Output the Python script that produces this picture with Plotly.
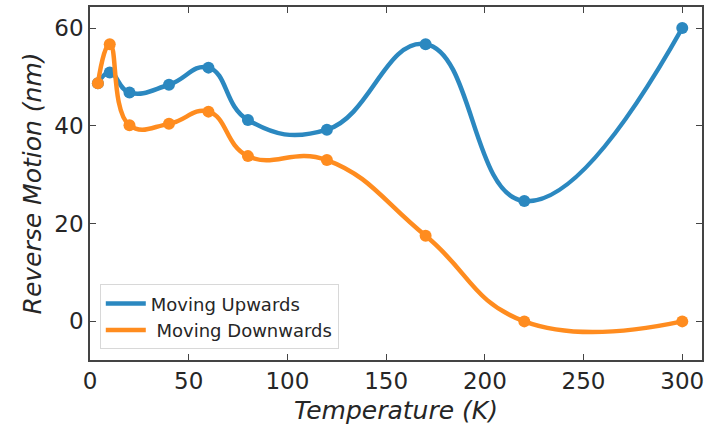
import plotly.graph_objects as go

temperature = [4, 10, 20, 40, 60, 80, 120, 170, 220, 300]
moving_up = [48.7, 50.9, 46.8, 48.4, 51.9, 41.2, 39.2, 56.7, 24.6, 60.0]
moving_down = [48.7, 56.7, 40.1, 40.4, 42.9, 33.8, 33.0, 17.5, 0.0, 0.0]
x_ticks = [0, 50, 100, 150, 200, 250, 300]
y_ticks = [0, 20, 40, 60]

BLUE = "#2b88c0"
ORANGE = "#ff8c1f"

fig = go.Figure()
for name, ys, col in [("Moving Upwards", moving_up, BLUE), (" Moving Downwards", moving_down, ORANGE)]:
    fig.add_trace(go.Scatter(x=temperature, y=ys, mode="lines", name=name,
                             line=dict(color=col, width=4.5, shape="spline", smoothing=1.3)))
    fig.add_trace(go.Scatter(x=temperature, y=ys, mode="markers", showlegend=False,
                             marker=dict(color=col, size=12)))

axis_common = dict(showline=True, mirror="ticks", linecolor="#444", linewidth=1.5,
                   ticks="inside", ticklen=6, tickwidth=1.2, tickcolor="#444",
                   showgrid=False, zeroline=False,
                   tickfont=dict(family="DejaVu Sans", size=23, color="#262626"))

fig.update_layout(
    width=709, height=432,
    margin=dict(l=90, r=5, t=5, b=72),
    paper_bgcolor="white", plot_bgcolor="white",
    xaxis=dict(range=[0, 310], tickvals=x_ticks,
               title=dict(text="Temperature (K)", standoff=8,
                          font=dict(family="DejaVu Sans", size=25, color="#262626", style="italic")),
               **axis_common),
    yaxis=dict(range=[-7.9, 64.3], tickvals=y_ticks,
               title=dict(text="Reverse Motion (nm)", standoff=6,
                          font=dict(family="DejaVu Sans", size=25, color="#262626", style="italic")),
               **axis_common),
    legend=dict(x=0.016, y=0.03, xanchor="left", yanchor="bottom",
                bgcolor="rgba(255,255,255,0.8)", bordercolor="#d8d8d8", borderwidth=1,
                font=dict(family="DejaVu Sans", size=18, color="#262626"),
                tracegroupgap=2, itemwidth=40),
)

fig.write_html("out.html")
